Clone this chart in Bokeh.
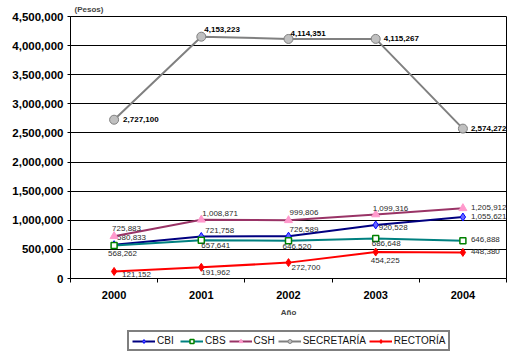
from bokeh.plotting import figure
from bokeh.layouts import column
from bokeh.models import (ColumnDataSource, FixedTicker, Legend, LegendItem,
                          NumeralTickFormatter, Range1d)
from bokeh.core.properties import value
from bokeh.embed import file_html
from bokeh.resources import INLINE

# ---- data ----
years = ["2000", "2001", "2002", "2003", "2004"]
cbi = [580833, 721758, 726589, 920528, 1055621]
cbs = [568262, 657641, 646520, 686648, 646888]
csh = [725883, 1008871, 999806, 1099316, 1205912]
secretaria = [2727100, 4153223, 4114351, 4115267, 2574272]
rectoria = [121152, 191962, 272700, 454225, 448380]
y_ticks = [0, 500000, 1000000, 1500000, 2000000, 2500000, 3000000, 3500000, 4000000, 4500000]

# ---- label offsets (pixels) ----
offsets = {
    "CBI": ([3, 4, 1, 3, 8], [-7, -6, -7, 3, -1]),
    "CBS": ([-6, 0, -6, -4, 8], [8, 5, 6, 5, -1]),
    "CSH": ([-2, 1, 1, -3, 8], [-8, -6, -8, -6, -1]),
    "SECRETARÍA": ([9, 3, 2, 8, 8], [0, -7, -5, 0, 0]),
    "RECTORÍA": ([8, 0, 3, -5, 8], [3, 5, 5, 8, -1]),
}

FONT = "Liberation Sans"
xs = list(range(len(years)))

p = figure(width=515, height=325, output_backend="svg", toolbar_location=None,
           x_range=Range1d(-0.5, 4.5), y_range=Range1d(0, 4500000),
           min_border_left=70, min_border_right=9, min_border_top=15, min_border_bottom=47,
           background_fill_color="white", border_fill_color="white")
p.outline_line_color = "black"
p.outline_line_width = 1

# title "(Pesos)"
p.title.text = "(Pesos)"
p.title.text_font = FONT
p.title.text_font_size = "8px"
p.title.text_font_style = "bold"
p.title.align = "left"
p.title.offset = 4
p.title.standoff = 5

# x axis
p.xaxis.ticker = FixedTicker(ticks=xs, minor_ticks=[-0.5, 0.5, 1.5, 2.5, 3.5, 4.5])
p.xaxis.major_label_overrides = {i: y for i, y in enumerate(years)}
p.xaxis.major_tick_line_color = None
p.xaxis.major_tick_out = 0
p.xaxis.major_tick_in = 0
p.xaxis.minor_tick_line_color = "black"
p.xaxis.minor_tick_out = 4
p.xaxis.minor_tick_in = 0
p.xaxis.axis_line_color = "black"
p.xaxis.major_label_text_font = FONT
p.xaxis.major_label_text_font_style = "bold"
p.xaxis.major_label_text_font_size = "11px"
p.xaxis.major_label_text_color = "black"
p.xaxis.major_label_standoff = 8
p.xaxis.axis_label = "Año"
p.xaxis.axis_label_text_font = FONT
p.xaxis.axis_label_text_font_style = "bold"
p.xaxis.axis_label_text_font_size = "8px"
p.xaxis.axis_label_standoff = 6

# y axis
p.yaxis.ticker = FixedTicker(ticks=y_ticks)
p.yaxis.formatter = NumeralTickFormatter(format="0,0")
p.yaxis.major_tick_out = 3
p.yaxis.major_tick_in = 0
p.yaxis.minor_tick_line_color = None
p.yaxis.axis_line_color = "black"
p.yaxis.major_label_text_font = FONT
p.yaxis.major_label_text_font_style = "bold"
p.yaxis.major_label_text_font_size = "11.5px"
p.yaxis.major_label_text_color = "black"
p.yaxis.major_label_standoff = 4

p.xgrid.grid_line_color = None
p.ygrid.ticker = FixedTicker(ticks=y_ticks)
p.ygrid.grid_line_color = "black"
p.ygrid.grid_line_width = 1

series = [
    ("CBI", cbi, dict(line_color="#000080"), dict(marker="diamond", size=8, fill_color="#6666FF", line_color="#0000FF")),
    ("CBS", cbs, dict(line_color="#008080"), dict(marker="square", size=6, fill_color="white", line_color="#008000", line_width=1.5)),
    ("CSH", csh, dict(line_color="#993366"), dict(marker="triangle", size=8, fill_color="#FF99CC", line_color="#FF99CC")),
    ("SECRETARÍA", secretaria, dict(line_color="#808080"), dict(marker="circle", size=9, fill_color="#C0C0C0", line_color="#808080")),
    ("RECTORÍA", rectoria, dict(line_color="#FF0000"), dict(marker="diamond", size=8, fill_color="#FF0000", line_color="#FF0000")),
]

# legend strip figure (its renderers use the same data, far outside its own ranges)
pl = figure(width=515, height=34, output_backend="svg", toolbar_location=None,
            x_range=Range1d(100, 101), y_range=Range1d(-2, -1),
            min_border=0, border_fill_color="white", background_fill_color="white")
pl.outline_line_color = None
pl.axis.visible = False
pl.grid.grid_line_color = None

items = []
for name, vals, lstyle, mstyle in series:
    src = ColumnDataSource(dict(x=xs, y=vals, t=[f"{v:,}" for v in vals],
                                xo=offsets[name][0], yo=offsets[name][1]))
    p.line("x", "y", source=src, line_width=2, **lstyle)
    p.scatter("x", "y", source=src, **mstyle)
    bold = name == "SECRETARÍA"
    p.text("x", "y", text="t", source=src, x_offset="xo", y_offset="yo",
           text_font=value(FONT), text_font_size="8px",
           text_font_style="bold" if bold else "normal",
           text_color="black" if bold else "#2a2a2a",
           text_baseline="middle", text_align="left")
    lr = pl.line("x", "y", source=src, line_width=2, **lstyle)
    sr = pl.scatter("x", "y", source=src, **mstyle)
    items.append(LegendItem(label=name, renderers=[lr, sr]))

legend = Legend(items=items, orientation="horizontal", location=(57, 8))
legend.border_line_color = "black"
legend.border_line_width = 2
legend.background_fill_color = "white"
legend.background_fill_alpha = 1
legend.label_text_font = FONT
legend.label_text_font_size = "10px"
legend.label_text_color = "#111111"
legend.glyph_width = 23
legend.glyph_height = 10
legend.label_standoff = 2
legend.label_height = 10
legend.spacing = 3
legend.padding = 3
legend.margin = 0
pl.add_layout(legend)

layout = column(p, pl, spacing=0)
open("out.html", "w").write(file_html(layout, INLINE))
